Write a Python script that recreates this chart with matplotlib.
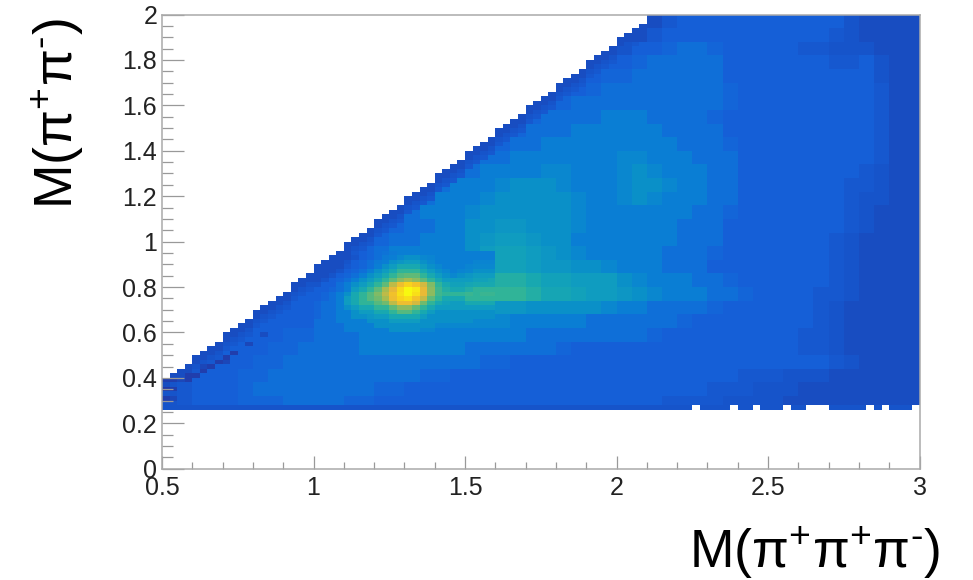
import numpy as np
import matplotlib
matplotlib.use("Agg")
import matplotlib.pyplot as plt
from matplotlib.colors import LinearSegmentedColormap, Normalize
from matplotlib.ticker import FixedLocator

plt.rcParams['font.family'] = ['Liberation Sans', 'DejaVu Sans']
plt.rcParams['mathtext.fontset'] = 'custom'
plt.rcParams['mathtext.rm'] = 'Liberation Sans'
plt.rcParams['mathtext.default'] = 'regular'

x_edges = np.linspace(0.5, 3.0, 101)
y_edges = np.linspace(0.26, 2.0, 88)

x_ticks = [0.5, 1, 1.5, 2, 2.5, 3]
x_tick_labels = ['0.5', '1', '1.5', '2', '2.5', '3']
y_ticks = [0, 0.2, 0.4, 0.6, 0.8, 1, 1.2, 1.4, 1.6, 1.8, 2]
y_tick_labels = ['0', '0.2', '0.4', '0.6', '0.8', '1', '1.2', '1.4', '1.6', '1.8', '2']

# colour level read by eye, 0.05 wide in x and 0.06 high in y, top row first
levels_coarse = [
    [5,5,5,5,5,5,5,5,5,5, 5,5,5,5,5,5,5,5,5,5, 5,5,5,5,5,5,5,5,5,5, 5,5,5,7,8,8,8,8,8,8, 8,8,8,8,8,6,5,5,5,5],
    [5,5,5,5,5,5,5,5,5,5, 5,5,5,5,5,5,5,5,5,5, 5,5,5,5,5,5,5,5,5,5, 5,5,7,8,8,8,8,8,8,8, 8,8,8,8,7,6,5,5,5,5],
    [5,5,5,5,5,5,5,5,5,5, 5,5,5,5,5,5,5,5,5,5, 5,5,5,5,5,5,5,5,5,5, 6,8,8,9,11,11,9,8,8,8, 8,8,7,7,6,6,6,5,5,5],
    [5,5,5,5,5,5,5,5,5,5, 5,5,5,5,5,5,5,5,5,5, 5,5,5,5,5,5,5,5,7,8, 8,9,11,11,11,11,11,8,8,8, 8,8,8,8,7,7,8,6,5,5],
    [5,5,5,5,5,5,5,5,5,5, 5,5,5,5,5,5,5,5,5,5, 5,5,5,5,5,5,8,8,8,9, 9,11,11,11,11,11,11,8,8,8, 8,8,8,8,8,8,8,6,5,5],
    [5,5,5,5,5,5,5,5,5,5, 5,5,5,5,5,5,5,5,5,5, 5,5,5,5,8,8,8,8,9,11, 11,11,11,11,11,11,11,9,8,8, 8,8,8,8,8,8,8,7,5,5],
    [5,5,5,5,5,5,5,5,5,5, 5,5,5,5,5,5,5,5,5,5, 5,5,8,8,8,8,9,11,11,11, 11,11,11,11,11,11,11,9,8,8, 8,8,8,8,8,8,8,7,5,5],
    [5,5,5,5,5,5,5,5,5,5, 5,5,5,5,5,5,5,5,5,8, 8,8,8,8,9,11,11,11,11,14, 14,14,11,11,11,11,9,8,8,8, 8,8,8,8,8,8,8,7,5,5],
    [5,5,5,5,5,5,5,5,5,5, 5,5,5,5,5,5,5,5,8,8, 8,8,8,9,11,11,11,14,14,14, 14,14,14,11,11,11,11,8,8,8, 8,8,8,8,8,8,8,7,5,5],
    [5,5,5,5,5,5,5,5,5,5, 5,5,5,5,5,5,8,8,8,8, 8,8,9,11,11,14,14,14,14,14, 14,14,14,14,11,11,11,9,8,8, 8,8,8,8,8,8,8,7,5,5],
    [5,5,5,5,5,5,5,5,5,5, 5,5,5,5,8,8,8,8,8,9, 9,11,11,14,14,14,14,14,14,14, 16,16,14,14,14,11,11,11,8,8, 8,8,8,8,8,8,8,7,5,5],
    [5,5,5,5,5,5,5,5,5,5, 5,5,8,8,8,8,8,9,11,11, 11,14,14,14,14,16,16,14,14,14, 16,18,16,14,14,14,11,11,8,8, 8,8,8,8,8,8,7,6,5,5],
    [5,5,5,5,5,5,5,5,5,5, 8,8,8,8,8,9,9,11,11,14, 14,14,16,18,18,18,16,14,14,14, 16,18,18,16,14,14,11,11,8,8, 8,8,8,8,8,7,7,6,5,5],
    [5,5,5,5,5,5,5,5,8,8, 8,8,8,8,8,9,11,11,14,14, 14,16,18,18,18,18,18,16,14,14, 16,18,16,14,14,14,11,11,8,8, 8,8,8,8,8,7,6,6,5,5],
    [5,5,5,5,5,5,8,8,8,8, 8,8,8,8,9,11,11,14,14,14, 16,18,18,18,18,18,18,16,14,14, 14,14,14,14,14,11,11,9,8,8, 8,8,8,8,8,7,6,5,5,5],
    [8,8,8,8,8,8,8,8,8,8, 8,8,8,8,9,9,11,11,14,14, 18,18,20,20,18,18,18,16,14,14, 14,14,14,14,11,11,11,8,8,8, 8,8,8,8,8,7,6,5,5,5],
    [8,8,8,8,8,8,8,8,8,8, 8,8,8,8,9,11,11,14,14,14, 18,20,22,22,20,18,18,14,14,14, 14,14,14,14,11,11,11,8,8,8, 8,8,8,8,7,6,5,5,5,5],
    [8,8,8,8,8,8,8,8,8,8, 8,8,9,9,11,14,14,14,14,14, 18,22,24,24,22,20,18,16,14,14, 14,14,14,11,11,11,9,8,8,8, 8,8,8,8,7,6,5,5,5,5],
    [8,8,8,8,8,8,8,8,8,8, 8,9,11,14,18,22,22,16,14,15, 20,22,24,24,22,20,20,18,18,16, 14,14,14,11,11,11,8,8,8,8, 8,8,8,8,7,6,5,5,5,5],
    [8,8,8,8,8,8,8,8,8,8, 8,9,11,18,33,60,60,27,24,27, 27,27,30,30,27,24,24,22,22,22, 18,16,14,14,14,11,11,9,8,8, 8,8,8,8,7,6,5,5,5,5],
    [8,8,8,8,8,8,8,8,8,8, 9,11,14,22,33,55,55,33,27,33, 33,33,33,33,30,26,26,24,22,22, 20,18,16,14,14,14,11,11,9,8, 8,8,8,7,7,6,5,5,5,5],
    [8,8,8,8,8,8,8,8,8,8, 9,11,14,18,22,33,33,27,22,18, 22,22,20,20,18,18,18,18,18,16, 14,14,11,11,11,11,9,8,8,8, 8,8,8,7,6,5,5,5,5,5],
    [8,8,8,8,8,8,8,8,8,8, 11,11,14,14,18,18,18,18,16,16, 16,16,16,14,14,14,14,14,11,11, 11,11,11,11,9,8,8,8,8,8, 8,8,8,7,6,5,5,5,5,5],
    [8,8,8,8,8,8,8,8,9,9, 11,11,11,14,14,14,14,14,14,14, 14,14,14,14,11,11,11,11,11,11, 11,11,9,8,8,8,8,8,8,8, 8,8,7,7,6,5,5,5,5,5],
    [8,8,8,8,8,8,8,9,9,11, 11,11,11,14,14,14,14,14,14,14, 11,11,11,11,11,11,9,8,8,8, 8,8,8,8,8,8,8,8,8,8, 8,8,7,7,6,5,5,5,5,5],
    [8,8,8,8,8,8,9,9,11,11, 11,11,11,11,11,11,11,11,11,11, 11,9,9,8,8,8,8,8,8,8, 8,8,8,8,8,8,8,8,8,8, 8,8,8,8,7,6,5,5,5,5],
    [8,8,8,8,8,9,9,11,11,11, 11,11,11,11,11,11,11,9,9,8, 8,8,8,8,8,8,8,8,8,8, 8,8,8,8,8,8,8,8,7,7, 7,6,6,6,5,5,5,5,5,5],
    [6,7,8,8,8,9,11,11,11,11, 11,11,11,11,9,9,8,8,8,8, 8,8,8,8,8,8,8,8,8,8, 8,8,8,8,8,8,7,7,7,6, 6,6,5,5,5,5,5,5,5,5],
    [6,7,8,8,8,9,9,9,11,11, 11,11,9,9,8,8,8,8,8,8, 8,8,8,8,8,8,8,8,8,8, 8,8,8,7,7,7,7,6,6,6, 6,5,5,5,5,5,5,5,5,5],
]

# single bins around the peak: x from 1.0 to 1.6, y from 0.96 down to 0.60
peak_x0 = 1.0
peak_y0 = 0.60
levels_peak = [
    [5,5,5,5,5,7,8,9,11,12,13,14,14,14,14,14,14,14,14,14,14,14,14,14],
    [5,5,5,5,5,6,8,9,11,13,14,16,18,18,16,15,14,14,14,14,14,14,14,14],
    [5,5,5,5,6,8,9,11,13,14,18,20,22,22,18,16,14,14,14,14,14,15,15,15],
    [5,5,5,5,7,8,9,11,14,18,22,27,27,27,22,18,16,14,14,14,15,16,16,16],
    [5,5,5,6,8,9,11,14,18,22,27,33,33,33,27,22,18,16,14,15,16,18,18,18],
    [5,5,6,8,9,11,14,18,22,27,33,40,42,42,33,27,22,18,16,18,20,22,22,22],
    [5,6,8,9,11,14,18,22,27,33,42,50,55,50,42,33,27,22,22,22,22,24,24,26],
    [6,8,8,11,14,18,22,27,33,42,60,75,88,80,65,48,33,27,24,24,26,27,27,27],
    [8,8,9,11,14,22,27,33,42,55,70,90,100,95,72,50,36,30,27,27,30,33,33,33],
    [8,9,11,14,18,27,33,40,48,60,78,92,100,92,72,50,36,33,33,33,35,33,35,35],
    [8,9,11,14,22,27,33,40,45,55,75,88,92,80,62,42,33,27,27,27,33,33,33,33],
    [9,11,11,14,22,27,33,33,40,45,60,75,75,65,45,33,27,24,22,22,27,27,27,27],
    [9,11,11,14,18,22,27,27,33,33,42,50,50,42,33,27,22,22,22,22,22,22,22,22],
    [9,11,11,14,14,18,22,22,27,27,33,40,40,33,27,22,18,18,18,18,18,18,18,18],
    [9,11,11,14,14,18,18,20,22,22,27,27,27,27,22,18,18,18,18,18,18,18,18,18],
    [11,11,11,14,14,14,14,18,18,18,22,22,22,22,18,18,18,18,18,18,18,16,16,16],
    [11,11,11,11,14,14,14,14,18,18,18,18,18,18,18,18,16,16,16,16,16,16,16,16],
    [11,11,11,11,14,14,14,14,14,14,18,18,18,18,16,16,14,14,14,14,14,14,14,14],
]

# upper edge of each filled column, from x = 0.5 in steps of 0.025
column_top = [
    0.40, 0.42, 0.44, 0.46, 0.50, 0.52, 0.54, 0.56, 0.60, 0.62, 0.64, 0.66, 0.70,
    0.72, 0.74, 0.76, 0.78, 0.82, 0.84, 0.86, 0.90, 0.92, 0.94, 0.96, 1.00, 1.02,
    1.04, 1.06, 1.10, 1.12, 1.14, 1.16, 1.20, 1.22, 1.24, 1.26, 1.30, 1.32, 1.34,
    1.36, 1.40, 1.42, 1.44, 1.46, 1.50, 1.52, 1.54, 1.56, 1.60, 1.62, 1.64, 1.66,
    1.70, 1.72, 1.74, 1.76, 1.80, 1.82, 1.84, 1.86, 1.90, 1.92, 1.94, 1.96, 2.00,
]
edge_levels = [5, 5, 6, 7]

# dark bins along the low-mass edge
dark_x = [0.50, 0.525, 0.55, 0.50, 0.525, 0.50, 0.525, 0.575, 0.575, 0.60, 0.625, 0.625, 0.65, 0.675, 0.70, 0.70, 0.725, 0.775, 0.825]
dark_y = [0.38, 0.38, 0.38, 0.34, 0.34, 0.30, 0.30, 0.38, 0.40, 0.40, 0.42, 0.44, 0.44, 0.46, 0.48, 0.46, 0.50, 0.54, 0.58]
dark_level = [3, 3, 4, 2, 3, 3, 4, 3, 3, 3, 3, 4, 3, 3, 3, 4, 3, 4, 5]

bottom_row_level = 6
bottom_gap_bins = [70, 75, 78, 82, 85, 86, 87, 93, 95, 99]

palette = [
    (0, '#2a2a90'), (5, '#174fc4'), (8, '#1560d8'), (11, '#0f6fd8'), (14, '#0a80d4'),
    (18, '#0a90c8'), (22, '#0f9cc0'), (27, '#18a8b0'), (33, '#30b498'), (42, '#60ba78'),
    (55, '#a8bc50'), (70, '#e8b838'), (85, '#f8c820'), (100, '#f8f810'),
]

# put the table on the histogram's own bins
z = np.repeat(np.repeat(np.array(levels_coarse, dtype=float)[::-1], 3, axis=0), 2, axis=1)
peak = np.array(levels_peak, dtype=float)[::-1]
r0 = int(round((peak_y0 - y_edges[0]) / 0.02))
c0 = int(round((peak_x0 - x_edges[0]) / 0.025))
z[r0:r0 + peak.shape[0], c0:c0 + peak.shape[1]] = peak
z[0, :] = bottom_row_level

for x, y, lev in zip(dark_x, dark_y, dark_level):
    z[int(round((y - y_edges[0]) / 0.02)), int(round((x - x_edges[0]) / 0.025))] = lev

mask = np.zeros(z.shape, dtype=bool)
for c, top in enumerate(column_top):
    n = int(round((top - y_edges[0]) / 0.02))
    mask[n:, c] = True
    for k, lev in enumerate(edge_levels):
        if n - 1 - k >= 0:
            z[n - 1 - k, c] = min(z[n - 1 - k, c], lev)
mask[0, bottom_gap_bins] = True

cmap = LinearSegmentedColormap.from_list('bird', [(p / 100, c) for p, c in palette])

fig = plt.figure(figsize=(9.73, 5.8), dpi=100)
ax = fig.add_axes([162 / 973, 1 - 468.7 / 580, (919.5 - 162) / 973, (468.7 - 14.5) / 580])
ax.pcolormesh(x_edges, y_edges, np.ma.masked_array(z, mask), cmap=cmap, norm=Normalize(0, 100))

ax.set_xlim(0.5, 3)
ax.set_ylim(0, 2)
ax.set_xticks(x_ticks)
ax.set_xticklabels(x_tick_labels)
ax.set_yticks(y_ticks)
ax.set_yticklabels(y_tick_labels)
ax.xaxis.set_minor_locator(FixedLocator(np.arange(0.5, 3.01, 0.1)))
ax.yaxis.set_minor_locator(FixedLocator(np.arange(0, 2.01, 0.05)))
ax.tick_params(axis='x', which='major', direction='in', length=9.5, width=0.9, color='#999999',
               labelsize=18, labelcolor='#222222', pad=5)
ax.tick_params(axis='x', which='minor', direction='in', length=5, width=0.9, color='#999999')
ax.tick_params(axis='y', which='major', direction='in', length=16, width=0.9, color='#999999',
               labelsize=18, labelcolor='#222222', pad=3.5)
ax.tick_params(axis='y', which='minor', direction='in', length=8, width=0.9, color='#999999')
for spine in ax.spines.values():
    spine.set_color('#aaaaaa')
    spine.set_linewidth(1.1)

fig.text(940 / 973, 1 - 568 / 580, r'M(π$^{+}$π$^{+}$π$^{\text{-}}$)', fontsize=38.5, color='black',
         ha='right', va='baseline')
fig.text(73 / 973, 1 - 209 / 580, r'M(π$^{+}$π$^{\text{-}}$)', fontsize=38.5, color='black',
         rotation=90, ha='left', va='baseline', rotation_mode='anchor')

fig.savefig('out.png', dpi=100)
